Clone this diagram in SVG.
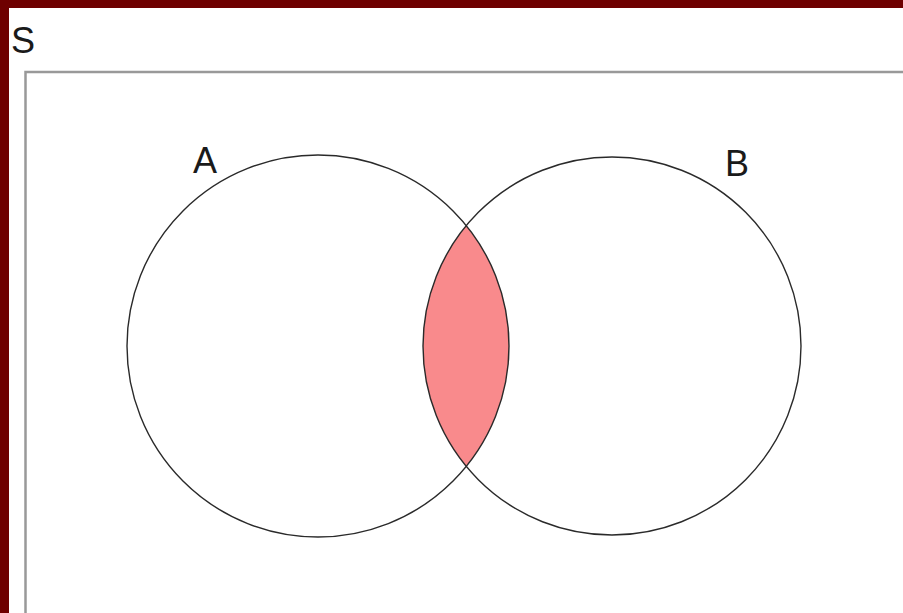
<svg xmlns="http://www.w3.org/2000/svg" width="903" height="613" viewBox="0 0 903 613">
<style>
.lbl{font-family:"Liberation Sans",Arial,sans-serif;fill:#1a1a1a}
.ring{fill:none;stroke:#2a2a2a;stroke-width:1.4}
</style>
<defs>
<clipPath id="clipA"><circle cx="318" cy="346" r="191"/></clipPath>
</defs>
<rect x="0" y="0" width="903" height="613" fill="#ffffff"/>
<rect x="0" y="0" width="903" height="8" fill="#6e0000"/>
<rect x="0" y="0" width="9" height="613" fill="#6e0000"/>
<path d="M25.5 613 V72 H903" fill="none" stroke="#999999" stroke-width="2.5"/>
<text class="lbl" x="11" y="53" font-size="36">S</text>
<g id="intersection">
<circle cx="612" cy="346" r="189" fill="#f98a8c" clip-path="url(#clipA)"/>
</g>
<g id="A">
<circle class="ring" cx="318" cy="346" r="191"/>
<text class="lbl" x="193" y="173" font-size="36">A</text>
</g>
<g id="B">
<circle class="ring" cx="612" cy="346" r="189"/>
<text class="lbl" x="725" y="176" font-size="36">B</text>
</g>
<g id="connectors"/>
</svg>
